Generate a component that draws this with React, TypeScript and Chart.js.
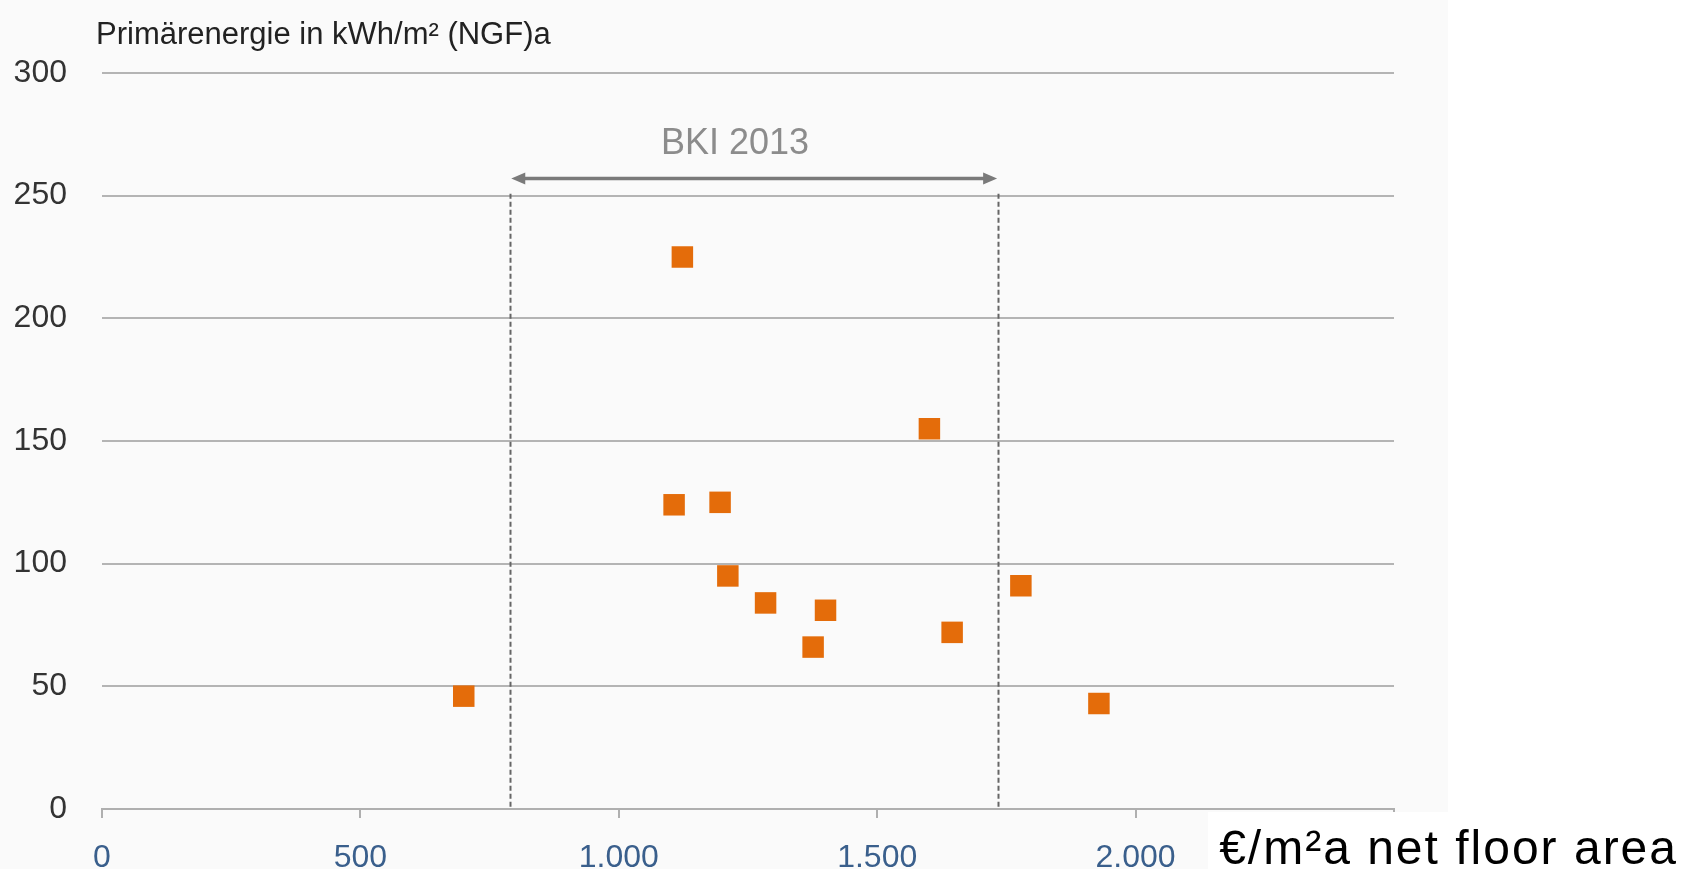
import React, { useEffect, useRef } from "react";
import { Chart, registerables } from "chart.js";

Chart.register(...registerables);

// Building costs (€/m² net floor area) and primary energy demand per project
const costValues = [700, 1123, 1107, 1196, 1211, 1284, 1376, 1400, 1601, 1645, 1778, 1929];
const energyValues = [46, 225, 124, 125, 95, 84, 66, 81, 155, 72, 91, 43];

// BKI 2013 cost range
const bkiRange = [790, 1734];
const bkiArrowLevel = 257;
const bkiLabel = "BKI 2013";
const bkiLabelPos = { x: 1225, y: 271 };

const yTitle = "Primärenergie in kWh/m² (NGF)a";
const xTitle = "€/m²a net floor area";

const xTicks = { min: 0, max: 2500, step: 500 };
const yTicks = { min: 0, max: 300, step: 50 };

const FONT = "'Liberation Sans', Arial, Helvetica, sans-serif";

const formatThousands = (v: number) =>
  String(v).replace(/\B(?=(\d{3})+(?!\d))/g, ".");

const decorPlugin = {
  id: "decor",
  beforeDraw(chart: any) {
    const { ctx, chartArea } = chart;
    ctx.save();
    ctx.fillStyle = "#FAFAFA";
    ctx.fillRect(0, 0, chartArea.right + 54, chart.height);
    ctx.restore();
  },
  beforeDatasetsDraw(chart: any) {
    const { ctx, scales } = chart;
    const xs = scales.x;
    const ys = scales.y;
    ctx.save();
    // dashed range boundaries
    ctx.strokeStyle = "#666666";
    ctx.lineWidth = 2;
    ctx.setLineDash([5, 3]);
    const yTop = ys.getPixelForValue(250) - 2;
    const yBottom = ys.getPixelForValue(0);
    bkiRange.forEach((v) => {
      const px = Math.round(xs.getPixelForValue(v)) + 0.5;
      ctx.beginPath();
      ctx.moveTo(px, yTop);
      ctx.lineTo(px, yBottom);
      ctx.stroke();
    });
    ctx.setLineDash([]);

    // double-headed arrow
    const xl = xs.getPixelForValue(bkiRange[0]) + 1;
    const xr = xs.getPixelForValue(bkiRange[1]) - 1;
    const ya = ys.getPixelForValue(bkiArrowLevel);
    const head = 14;
    const half = 6;
    ctx.strokeStyle = "#7A7A7A";
    ctx.fillStyle = "#7A7A7A";
    ctx.lineWidth = 3.5;
    ctx.beginPath();
    ctx.moveTo(xl + head - 2, ya);
    ctx.lineTo(xr - head + 2, ya);
    ctx.stroke();
    ctx.beginPath();
    ctx.moveTo(xl, ya);
    ctx.lineTo(xl + head, ya - half);
    ctx.lineTo(xl + head, ya + half);
    ctx.closePath();
    ctx.fill();
    ctx.beginPath();
    ctx.moveTo(xr, ya);
    ctx.lineTo(xr - head, ya - half);
    ctx.lineTo(xr - head, ya + half);
    ctx.closePath();
    ctx.fill();

    // range label
    ctx.fillStyle = "#8C8C8C";
    ctx.font = `36px ${FONT}`;
    ctx.textAlign = "center";
    ctx.textBaseline = "middle";
    ctx.fillText(bkiLabel, xs.getPixelForValue(bkiLabelPos.x), ys.getPixelForValue(bkiLabelPos.y));
    ctx.restore();
  },
  afterDraw(chart: any) {
    const { ctx, chartArea } = chart;
    ctx.save();
    // value axis title
    ctx.fillStyle = "#222222";
    ctx.font = `31px ${FONT}`;
    ctx.textAlign = "left";
    ctx.textBaseline = "alphabetic";
    ctx.fillText(yTitle, chartArea.left - 6, 44);

    // category axis title on its own white box
    ctx.fillStyle = "#FFFFFF";
    ctx.fillRect(1208, chartArea.bottom + 3, chart.width - 1208, chart.height - chartArea.bottom - 3);
    ctx.fillStyle = "#000000";
    ctx.font = `48px ${FONT}`;
    ctx.textAlign = "right";
    (ctx as any).letterSpacing = "2px";
    ctx.fillText(xTitle, 1678, 864);
    ctx.restore();
  },
};

export default function App() {
  const canvasRef = useRef<HTMLCanvasElement | null>(null);

  useEffect(() => {
    if (!canvasRef.current) return;
    const points = costValues.map((x, i) => ({ x, y: energyValues[i] }));
    const chart = new Chart(canvasRef.current, {
      type: "scatter",
      data: {
        datasets: [
          {
            data: points,
            pointStyle: "rect",
            pointRadius: 15.2,
            pointHoverRadius: 15.2,
            backgroundColor: "#E46C0A",
            borderWidth: 0,
          },
        ],
      },
      options: {
        responsive: false,
        animation: false,
        layout: { padding: { top: 73, right: 287, bottom: 0, left: 0 } },
        plugins: {
          legend: { display: false },
          tooltip: { enabled: false },
        },
        scales: {
          x: {
            type: "linear",
            min: xTicks.min,
            max: xTicks.max,
            afterFit(scale: any) {
              scale.height = 60;
            },
            ticks: {
              stepSize: xTicks.step,
              color: "#3A5F8C",
              padding: 21,
              font: { family: FONT, size: 32 },
              callback: (v: any) => formatThousands(Number(v)),
              maxRotation: 0,
            },
            grid: {
              drawOnChartArea: false,
              drawTicks: true,
              tickLength: 9,
              color: "#AFAFAF",
              lineWidth: 2,
            },
            border: { display: true, color: "#AFAFAF", width: 2 },
          },
          y: {
            type: "linear",
            min: yTicks.min,
            max: yTicks.max,
            afterFit(scale: any) {
              scale.width = 102;
            },
            ticks: {
              stepSize: yTicks.step,
              color: "#333333",
              padding: 35,
              font: { family: FONT, size: 32 },
            },
            grid: {
              drawTicks: false,
              color: "#B4B4B4",
              lineWidth: 2,
            },
            border: { display: false },
          },
        },
      },
      plugins: [decorPlugin],
    });
    return () => chart.destroy();
  }, []);

  return (
    <div style={{ position: "absolute", left: 0, top: 0, width: 1681, height: 869, background: "#FFFFFF" }}>
      <canvas ref={canvasRef} width={1681} height={869} style={{ display: "block" }} />
    </div>
  );
}
